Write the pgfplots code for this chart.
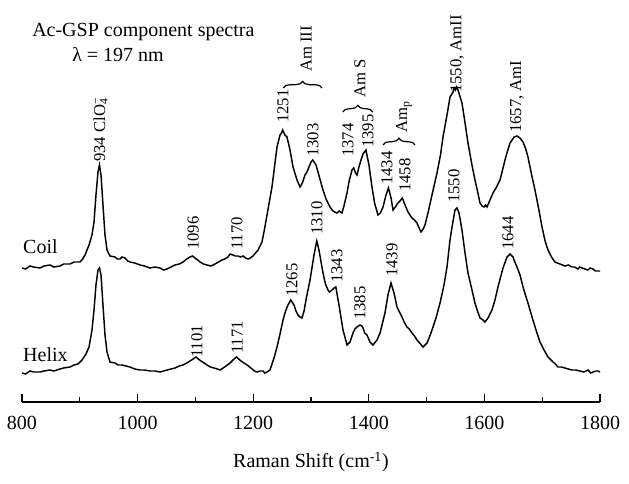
\documentclass[border=0pt]{standalone}
\usepackage{pgfplots}
\pgfplotsset{compat=1.18}
\usepackage{fontspec}
\setmainfont{Liberation Serif}
\usetikzlibrary{decorations.pathreplacing}
\newcommand{\lab}{\fontsize{12.5}{14}\selectfont}
\newcommand{\bigf}{\fontsize{15}{18}\selectfont}
\tikzset{rotlab/.style={rotate=90, anchor=west, inner sep=0pt, font=\lab}}
\begin{document}
\begin{tikzpicture}
\begin{axis}[
  x=0.4335pt, y=0.75pt,
  xmin=800, xmax=1800, ymin=81, ymax=480,
  axis x line*=bottom, axis y line*=left,
  y axis line style={draw=none}, ytick=\empty,
  x axis line style={-, line width=0.8pt},
  xtick={800,1000,...,1800},
  minor xtick={900,1100,...,1700},
  xtick align=inside,
  major tick length=6pt, minor tick length=3.75pt,
  every tick/.style={line width=0.8pt, black},
  xticklabel style={font=\bigf, anchor=center, yshift=-15.75pt},
  /pgf/number format/assume math mode=true,
  /pgf/number format/1000 sep={},
  clip=false,
  every axis plot/.append style={line width=1.1pt, black},
]
% invisible frame fixing picture size
\path (axis cs:761.94,0) rectangle (axis cs:1850.17,483);

% Coil
\addplot[mark=none] coordinates {
(800,215)(806,214)(813.8,217)(820,216)(831.1,215)(838,217)(848.4,218)(855,216)(865.7,217)(872,219)(883.0,219)(890,221)(900.3,221)(905,224)(909,228)(916,238)(921.1,248)(924.6,261)(928,288)(931.5,311)(934,318)(936.7,308)(940.1,278)(943.6,248)(947.1,233)(952.2,227)(960.9,226)(965,224)(969.6,224)(973,226)(978.2,225)(983,222)(986.9,221)(995,220)(1004.2,218)(1012,217)(1021.5,215)(1030,216)(1038.8,215)(1045,213)(1050.9,214)(1058,216)(1064.7,218)(1072,219)(1078.6,221)(1085,224)(1090.7,226)(1095,227)(1099.3,225)(1104,223)(1108,221)(1114,219)(1120.1,218)(1127,217)(1133.9,219)(1140,221)(1146,223)(1151,224)(1156.4,226)(1160,229)(1165.1,228)(1169,227)(1173.7,227)(1178,226)(1182.4,227)(1187,225)(1191,224)(1195,225)(1199.7,227)(1204,230)(1208.3,233)(1215.2,241)(1219,252)(1223.9,268)(1232.5,296)(1241.2,336)(1246.4,348)(1249,350)(1251,353)(1254.9,348)(1258.5,346)(1263.7,333)(1268.9,316)(1275.8,303)(1281,296)(1285,300)(1289.6,308)(1293,311)(1296.5,316)(1300,321)(1303,323)(1308.7,318)(1314,307)(1320.8,293)(1326,284)(1332.9,276)(1338,272)(1341,271)(1345,270)(1349,272)(1353.6,270)(1357,277)(1362.3,290)(1366,302)(1370.9,313)(1374,315)(1377,310)(1379.6,308)(1383,316)(1386.5,323)(1390,329)(1395,333)(1400.3,318)(1405.5,296)(1410,280)(1415.9,268)(1420,270)(1424.6,276)(1429.8,288)(1434,295)(1438.5,285)(1441.9,273)(1446,276)(1450.5,280)(1454,282)(1458,285)(1462,279)(1467.8,271)(1474.7,265)(1479,263)(1483.4,260)(1487,255)(1490.3,251)(1494,254)(1497.2,258)(1502.4,270)(1509.3,288)(1518,310)(1524,328)(1528.4,346)(1535.3,368)(1540.5,386)(1545.7,391)(1548,395)(1550,393)(1552,396)(1554.3,393)(1561.2,380)(1566,362)(1571.6,340)(1578.5,318)(1583.7,303)(1588,292)(1592.4,280)(1596,277)(1599.3,276)(1602,278)(1604.5,276)(1609.7,283)(1614.9,290)(1620,295)(1627,303)(1631,312)(1635.6,323)(1640,332)(1644.3,340)(1648,343)(1651.2,346)(1656.4,347)(1661.6,345)(1666.8,341)(1671,335)(1675.4,326)(1681,310)(1687.5,293)(1694,274)(1699.7,256)(1705,242)(1710,233)(1716,226)(1722.1,221)(1726,220)(1730.8,219)(1735,218)(1739.4,217)(1745,218)(1751.6,216)(1756,216)(1761.9,214)(1765,216)(1768.9,215)(1774,214)(1779.2,213)(1783,215)(1787.9,214)(1792,212)(1796.5,212)(1800,212)
};

% Helix
\addplot[mark=none] coordinates {
(800,110)(806,109)(813.8,112)(820,111)(831.1,111)(838,112)(848.4,113)(855,112)(865.7,114)(872,115)(883,116)(890,118)(896.9,119)(903.8,123)(910.7,129)(916,136)(921.1,153)(924.6,173)(928,198)(931.5,213)(934,215)(936.7,208)(940.1,178)(943.6,148)(947.1,131)(952.2,121)(960.9,120)(966,118)(973,118)(980,117)(986.9,116)(995,114)(1004.2,113)(1012,113)(1021.5,112)(1030,112)(1038.8,111)(1045,112)(1050.9,113)(1058,114)(1064.7,115)(1072,117)(1078.6,118)(1085,120)(1090.7,122)(1096,124)(1101,126)(1105,124)(1109.7,122)(1115,120)(1120.1,118)(1126,116)(1132.2,115)(1138,114)(1142.6,113)(1148,115)(1153,117)(1159.9,120)(1165,123)(1171,126)(1175,124)(1178.9,122)(1184,120)(1189.3,118)(1194,116)(1198,114)(1202,112)(1206.6,111)(1212,112)(1217,112)(1220,110)(1223.9,111)(1229.1,113)(1236,125)(1241.2,136)(1246,148)(1251.6,163)(1256,172)(1260.2,178)(1265,183)(1270.6,178)(1274,172)(1277.5,168)(1281,166)(1284.4,165)(1288,172)(1291.3,183)(1298.3,203)(1305.2,228)(1310,242)(1313.8,233)(1320.8,210)(1325,199)(1329.4,193)(1332,191)(1336.3,193)(1340,195)(1343,196)(1348.4,178)(1355.4,153)(1362.3,138)(1367.5,141)(1372.7,150)(1376,154)(1379.6,156)(1384.8,158)(1388,157)(1390,155)(1393,150)(1396.9,148)(1402.1,141)(1407.3,138)(1410,140)(1414.2,143)(1419.4,150)(1428,170)(1433.2,188)(1438.4,200)(1443.6,190)(1448.8,176)(1453,171)(1457.4,166)(1462,160)(1466.1,156)(1470,154)(1474.7,150)(1479,147)(1483.4,143)(1488,140)(1493.8,136)(1500.7,140)(1505,146)(1509.3,153)(1516.3,165)(1523.2,180)(1530.1,198)(1535.3,216)(1540.5,243)(1544,256)(1549.1,273)(1552.6,275)(1556.1,270)(1561.2,253)(1566,232)(1571.6,210)(1578.5,193)(1583.7,180)(1588,172)(1592.4,165)(1597.6,163)(1601,161)(1606.2,165)(1613.1,173)(1618.3,183)(1623.5,196)(1628,206)(1632.2,215)(1639.1,226)(1644.3,229)(1649.5,226)(1652,222)(1656.4,216)(1661.6,208)(1666.8,196)(1671,188)(1675.4,180)(1682.4,166)(1689.3,153)(1696.2,141)(1703.1,133)(1710,126)(1718.7,121)(1723,119)(1727.3,116)(1733,116)(1739.4,115)(1745,114)(1751.6,113)(1758,113)(1765.4,112)(1772,111)(1779.2,113)(1784,110)(1787.9,111)(1793,112)(1796.5,112)(1800,111)
};

% axis label and titles
\node[font=\bigf] at (axis cs:1300,21) {Raman Shift (cm\textsuperscript{-1})};
\node[font=\bigf, anchor=west, inner sep=0pt] at (axis cs:817.3,451) {Ac-GSP component spectra};
\node[font=\bigf, anchor=west, inner sep=0pt] at (axis cs:886.5,428) {λ = 197 nm};
\node[font=\bigf, anchor=west, inner sep=0pt] at (axis cs:801.7,236) {Coil};
\node[font=\bigf, anchor=west, inner sep=0pt] at (axis cs:801.7,128) {Helix};

% Coil labels
\node[rotlab] at (axis cs:936,321) {934 ClO\rlap{\textsuperscript{−}}\textsubscript{4}};
\node[rotlab] at (axis cs:1096,233) {1096};
\node[rotlab] at (axis cs:1172,233) {1170};
\node[rotlab] at (axis cs:1251.6,360) {1251};
\node[rotlab] at (axis cs:1303.5,326) {1303};
\node[rotlab] at (axis cs:1364,326) {1374};
\node[rotlab] at (axis cs:1398.6,335) {1395};
\node[rotlab] at (axis cs:1431.5,298) {1434};
\node[rotlab] at (axis cs:1462.6,291) {1458};
\node[rotlab] at (axis cs:1552.6,390) {1550, AmII};
\node[rotlab] at (axis cs:1656.4,350) {1657, AmI};
\node[rotlab] at (axis cs:1291.4,411) {Am III};
\node[rotlab] at (axis cs:1384.8,385) {Am S};
\node[rotlab] at (axis cs:1460.9,350) {Am\textsubscript{p}};
\draw[line width=0.9pt, decorate, decoration={brace, amplitude=5pt}] (axis cs:1252,395) -- (axis cs:1319,395);
\draw[line width=0.9pt, decorate, decoration={brace, amplitude=5pt}] (axis cs:1355,371) -- (axis cs:1407,371);
\draw[line width=0.9pt, decorate, decoration={brace, amplitude=5pt}] (axis cs:1424.6,338) -- (axis cs:1479.9,338);

% Helix labels
\node[rotlab] at (axis cs:1102.8,125) {1101};
\node[rotlab] at (axis cs:1172,129) {1171};
\node[rotlab] at (axis cs:1267,186) {1265};
\node[rotlab] at (axis cs:1310.4,248) {1310};
\node[rotlab] at (axis cs:1345,200) {1343};
\node[rotlab] at (axis cs:1384.8,163) {1385};
\node[rotlab] at (axis cs:1440,206) {1439};
\node[rotlab] at (axis cs:1547.4,280) {1550};
\node[rotlab] at (axis cs:1640.8,233) {1644};
\end{axis}
\end{tikzpicture}
\end{document}
